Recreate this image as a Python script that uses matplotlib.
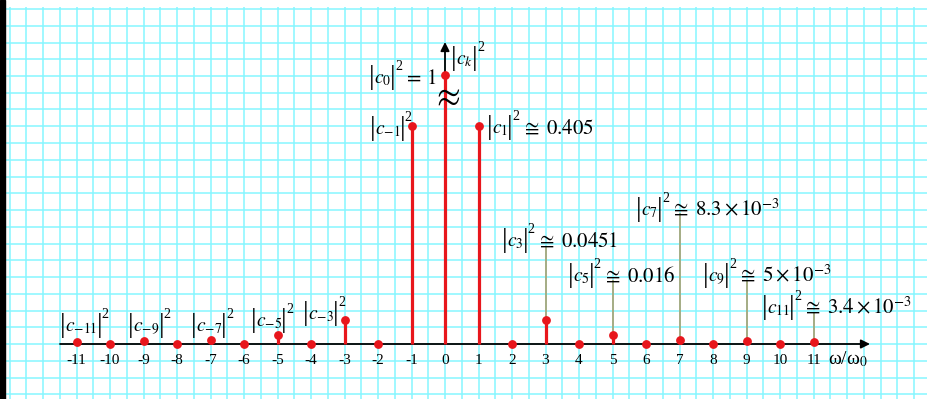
"""Power spectrum |c_k|^2 of a square wave, drawn as a stem plot on graph paper."""

import matplotlib

matplotlib.use("Agg", force=True)
import matplotlib.pyplot as plt
from matplotlib.offsetbox import AnnotationBbox, HPacker, TextArea
from matplotlib.patches import Rectangle
from matplotlib.ticker import MultipleLocator

# data
harmonics = list(range(-11, 12))
odd_k = [1, 3, 5, 7, 9, 11]
odd_power = [0.405, 0.0451, 0.016, 0.0083, 0.005, 0.0034]
c0_power = 1.0
c0_shown = 0.5  # c0 bar is drawn with a break, not to scale

pos_subs = ["3", "5", "7", "9", "11"]
pos_values = [r"0.0451", r"0.016", r"8.3\times 10^{-3}", r"5\times 10^{-3}", r"3.4\times 10^{-3}"]
neg_subs = ["-11", "-9", "-7", "-5", "-3"]

RED = "#e8161c"
OLIVE = "#a8a070"
GRID = "#86f6ff"

plt.rcParams["mathtext.fontset"] = "stix"
plt.rcParams["font.family"] = ["Liberation Serif", "DejaVu Serif"]

W, H = 928, 399
X0, UX = 445, 33.5  # pixel of k=0, pixels per harmonic
Y0, UY = 344, 539  # pixel of the axis, pixels per unit of power
FS = 14
BAR_FS = 20


def px2x(px):
    return (px - X0) / UX


def py2y(py):
    return (Y0 - py) / UY


def coef_label(ax, sub, tail, x_px, mid_px, anchor=0):
    """|c_sub|^2 tail, with tall bars; anchor edge and bar centre in pixels."""
    bar = dict(fontsize=BAR_FS, family="Liberation Serif")
    parts = [
        TextArea("|", textprops=bar),
        TextArea(rf"$c_{{{sub}}}$", textprops=dict(fontsize=FS)),
        TextArea("|", textprops=bar),
        # trailing newline lifts the exponent above the baseline
        TextArea("2\n", textprops=dict(fontsize=10, linespacing=1.05)),
    ]
    if tail:
        parts.append(TextArea(rf"${tail}$", textprops=dict(fontsize=15)))
    box = HPacker(children=parts, align="baseline", pad=0, sep=-0.5)
    ab = AnnotationBbox(box, (px2x(x_px), py2y(mid_px)), xycoords="data",
                        box_alignment=(anchor, 0.5), frameon=False, pad=0, zorder=5)
    ax.add_artist(ab)


power = {k: 0.0 for k in harmonics}
for k, p in zip(odd_k, odd_power):
    power[k] = p
    power[-k] = p
power[0] = c0_power
shown = [c0_shown if k == 0 else power[k] for k in harmonics]

fig = plt.figure(figsize=(W / 100, H / 100), dpi=100)
ax = fig.add_axes([5 / W, 0, 1 - 5 / W, (H - 7) / H])
ax.set_xlim(px2x(5), px2x(W))
ax.set_ylim(py2y(H), py2y(7))
for s in ax.spines.values():
    s.set_visible(False)
ax.xaxis.set_major_locator(MultipleLocator(0.5))
ax.yaxis.set_major_locator(MultipleLocator(16.75 / UY))
ax.tick_params(length=0, labelbottom=False, labelleft=False)
ax.grid(True, color=GRID, lw=1.1)
ax.set_axisbelow(True)
fig.add_artist(Rectangle((0, 0), 5 / W, 1, transform=fig.transFigure, color="black", zorder=10))

# axes with arrows
arrow = dict(arrowstyle="-|>", color="black", lw=1.3, mutation_scale=13, shrinkA=0, shrinkB=0)
ax.annotate("", xy=(px2x(870), 0), xytext=(px2x(60), 0), arrowprops=arrow, zorder=2)
ax.annotate("", xy=(0, py2y(42)), xytext=(0, 0), arrowprops=arrow, zorder=2)

# stems
ax.vlines(harmonics, 0, shown, color=RED, lw=2.3, zorder=3)
ax.plot(harmonics, shown, "o", color=RED, ms=5.3, zorder=4)
ax.text(0.02, py2y(97), r"$\approx$", ha="center", va="center", fontsize=25, zorder=5)

# leader lines for the positive odd harmonics
leader_top = [py2y(246), py2y(280), py2y(213), py2y(280), py2y(312)]
for k, top in zip(odd_k[1:], leader_top):
    ax.vlines(k, power[k], top, color=OLIVE, lw=1.2, zorder=2)

pos_at = [(502, 238), (568, 273), (636, 207), (703, 273), (762, 305)]
for sub, val, (lx, my) in zip(pos_subs, pos_values, pos_at):
    coef_label(ax, sub, r"\,\cong\;" + val, lx, my)

neg_at = [(60, 323), (128, 323), (191, 323), (251, 318), (303, 311)]
for sub, (lx, my) in zip(neg_subs, neg_at):
    coef_label(ax, sub, "", lx, my)

coef_label(ax, "0", r"\,=\,1", 437, 75, anchor=1)
coef_label(ax, "-1", "", 370, 126)
coef_label(ax, "1", r"\,\cong\;0.405", 487, 125)
coef_label(ax, "k", "", 451, 56)

# tick labels
for k in harmonics:
    ax.text(k, py2y(364), str(k), ha="center", va="baseline", fontsize=11)
ax.text(px2x(828), py2y(364), "ω/ω$_0$", ha="left", va="baseline", fontsize=14)

fig.savefig("out.png", dpi=100)
plt.close(fig)
